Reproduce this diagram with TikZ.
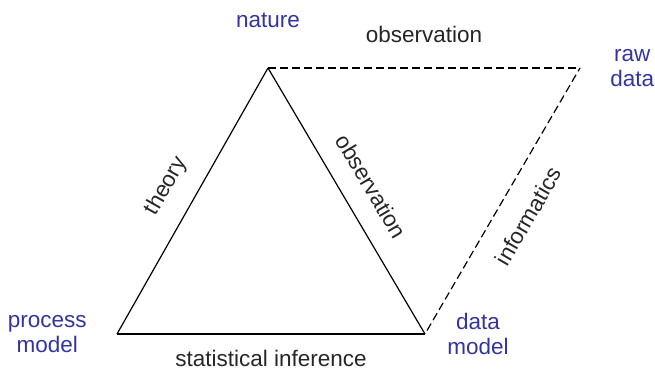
\documentclass[tikz,border=0pt]{standalone}
\usepackage{fontspec}
\setmainfont{Liberation Sans}
\usetikzlibrary{positioning}
\definecolor{vertexblue}{RGB}{52,52,160}

\begin{document}
\begin{tikzpicture}[x=0.5pt, y=0.5pt,
    node distance=15pt,
    vtx/.style={text=vertexblue, align=center, inner sep=0pt,
      font=\fontsize{11.25}{12.5}\selectfont},
    lbl/.style={text=black!85, inner sep=0pt,
      font=\fontsize{11.25}{12.5}\selectfont},
    side/.style={draw=black, line width=0.6pt},
    link/.style={draw=black, line width=0.6pt, dash pattern=on 4pt off 2pt}
  ]
    \useasboundingbox (0,0) rectangle (655,374);
    \coordinate (nat) at (268,306);
    \coordinate (proc) at (117,40);
    \coordinate (dat) at (425,40);
    \coordinate (raw) at (580,306);

    \node[vtx, above=20pt of nat] (natlbl) {nature};
    \node[vtx, left=15pt of proc] (proclbl) {process\\model};
    \node[vtx, right=11pt of dat] (datlbl) {data\\model};
    \node[vtx, right=15pt of raw] (rawlbl) {raw\\data};

    \draw[side] (proc) -- node[lbl, midway, sloped, above=9.5pt] (theory) {theory} (nat);
    \draw[side] (nat) -- node[lbl, midway, sloped, above=10pt] (obsside) {observation} (dat);
    \draw[side] (proc) -- node[lbl, midway, below=8pt] (inference) {statistical inference} (dat);
    \draw[link] (nat) -- node[lbl, midway, above=12.4pt] (obstop) {observation} (raw);
    \draw[link, shorten <=2pt] (dat) -- node[lbl, midway, sloped, below=10.5pt] (informatics) {informatics} (raw);
\end{tikzpicture}
\end{document}
